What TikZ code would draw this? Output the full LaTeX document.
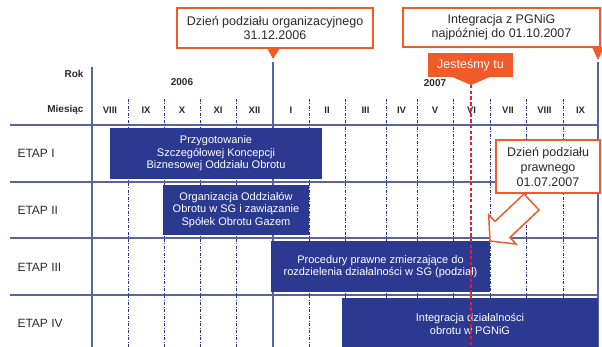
\documentclass[tikz,border=0pt]{standalone}
\usepackage{fontspec}
\setmainfont{Liberation Sans}
\definecolor{navy}{HTML}{2C3990}
\definecolor{gridblue}{HTML}{5A62A6}
\definecolor{dashblue}{HTML}{27348B}
\definecolor{orng}{HTML}{F15A29}
\definecolor{redd}{HTML}{E31E2D}
\definecolor{txt}{HTML}{2A2A2A}
\begin{document}
\begin{tikzpicture}[x=1pt,y=-1pt,
  solidln/.style={draw=gridblue, line width=1.3pt},
  rowln/.style={draw=gridblue, line width=1.6pt},
  dashln/.style={draw=dashblue, line width=0.7pt, dash pattern=on 3pt off 1.5pt on 1pt off 1.5pt},
  bar/.style={fill=navy, text=white, align=center, font=\fontsize{11}{12.5}\selectfont, inner sep=0pt},
  callout/.style={draw=orng, line width=1.6pt, fill=white, align=center, text=txt, font=\fontsize{12.5}{14}\selectfont, inner sep=0pt},
  etap/.style={anchor=west, text=txt, font=\fontsize{12}{14}\selectfont},
  hdr/.style={text=txt, font=\bfseries\fontsize{10}{12}\selectfont},
  mon/.style={text=txt, font=\bfseries\fontsize{9.5}{12}\selectfont}]
\useasboundingbox (0,0) rectangle (602,347);

% horizontal grid lines
\foreach \y in {125,182,238,295} \draw[rowln] (10,\y) -- (598,\y);
% vertical grid lines
\draw[solidln] (92,67) -- (92,347);
\draw[solidln] (273,62) -- (273,347);
\draw[solidln] (598,62) -- (598,347);
\foreach \x in {128,164,200,236,309,345,386,417,453,490,526,563}
  \draw[dashln] (\x,99) -- (\x,347);

% header labels
\node[hdr, anchor=east] (rok) at (87,74) {Rok};
\node[hdr, anchor=east] (mies) at (87,110) {Miesiąc};
\node[hdr] (y2006) at (182,82) {2006};
\node[hdr] (y2007) at (435,83) {2007};
\foreach \x/\m [count=\i] in {110/VIII,146/IX,182/X,218/XI,254.5/XII,291/I,327/II,365.5/III,401.5/IV,435/V,471.5/VI,508/VII,544.5/VIII,580.5/IX}
  \node[mon] (m\i) at (\x,110) {\m};

% row labels
\node[etap] (e1) at (14,153.5) {ETAP I};
\node[etap] (e2) at (14,210) {ETAP II};
\node[etap] (e3) at (14,267) {ETAP III};
\node[etap] (e4) at (14,323) {ETAP IV};

% bars
\node[bar, minimum width=212pt, minimum height=51pt] (b1) at (216,153.5)
  {Przygotowanie\\Szczegółowej Koncepcji\\Biznesowej Oddziału Obrotu};
\node[bar, minimum width=146pt, minimum height=50pt] (b2) at (236,210)
  {Organizacja Oddziałów\\Obrotu w SG i zawiązanie\\Spółek Obrotu Gazem};
\node[bar, minimum width=219pt, minimum height=51pt] (b3) at (380.5,266.5)
  {Procedury prawne zmierzające do\\rozdzielenia działalności w SG (podział)};
\node[bar, minimum width=256pt, minimum height=52pt] (b4) at (470,324)
  {Integracja działalności\\obrotu w PGNiG};

% "Jesteśmy tu" marker
\fill[orng] (450,76) -- (492,76) -- (471,85) -- cycle;
\node[fill=orng, text=white, minimum width=85pt, minimum height=24pt, inner sep=0pt,
  font=\fontsize{12.5}{14}\selectfont] (tu) at (470.5,65) {Jesteśmy tu};
\coordinate (tutip) at (471,85);
\coordinate (tuend) at (471,347);
\draw[draw=redd, line width=2.6pt, dash pattern=on 3.5pt off 2.2pt] (tutip) -- (tuend);

% callout 1
\node[callout, minimum width=196pt, minimum height=40pt] (c1) at (275,28)
  {Dzień podziału organizacyjnego\\31.12.2006};
\fill[orng] (267,48) -- (280,48) -- (273,59) -- cycle;

% callout 2
\node[callout, minimum width=197pt, minimum height=39pt] (c2) at (501.5,27.5)
  {Integracja z PGNiG\\najpóźniej do 01.10.2007};
\fill[orng] (592,47) -- (604,47) -- (598,60) -- cycle;

% callout 3 with hollow arrow
\filldraw[draw=orng, fill=white, line width=1.5pt, line join=miter]
  (524,194) -- (539,210) -- (510,237.4) -- (516,244) -- (490,241)
  -- (488.7,214.8) -- (495,221.4) -- cycle;
\node[callout, minimum width=104pt, minimum height=53pt,
  font=\fontsize{12.5}{15}\selectfont] (c3) at (548,166.5)
  {Dzień podziału\\prawnego\\01.07.2007};
\end{tikzpicture}
\end{document}
